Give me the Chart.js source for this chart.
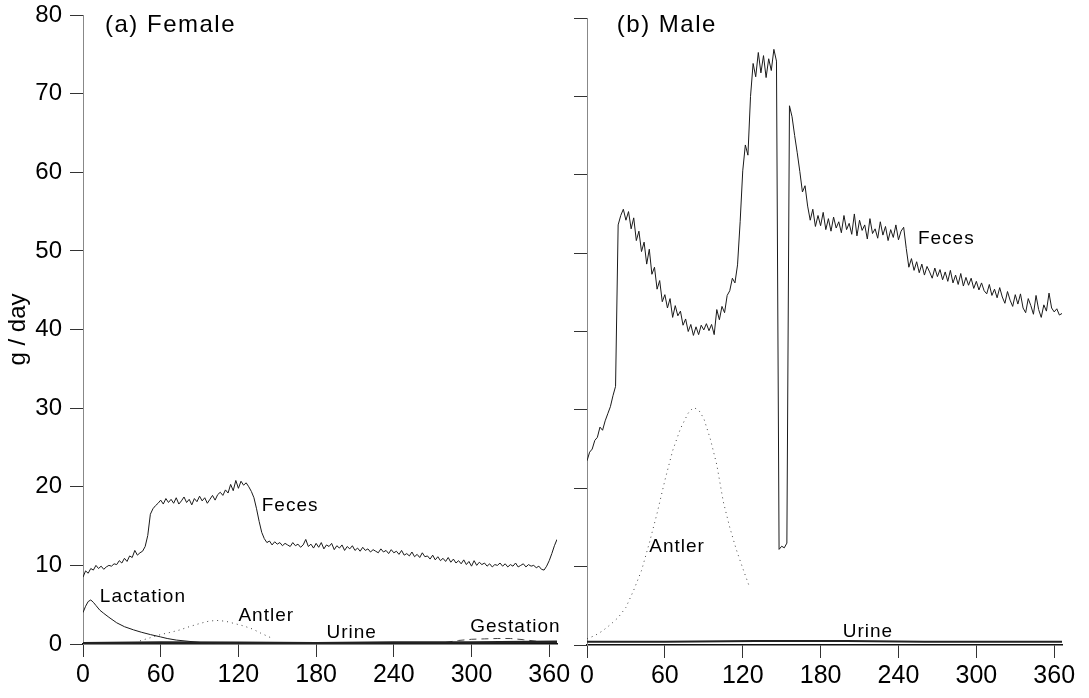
<!DOCTYPE html>
<html><head><meta charset="utf-8">
<script src="https://cdn.jsdelivr.net/npm/chart.js@4.4.1/dist/chart.umd.min.js"></script>
<style>
html,body{margin:0;padding:0;background:#fff;}
#wrap{position:relative;width:1089px;height:698px;background:#fff;}
canvas{position:absolute;left:0;top:0;}
</style></head><body>
<div id="wrap"><canvas id="female" width="1089" height="698"></canvas><canvas id="male" width="1089" height="698"></canvas></div>
<script>
// ---------- data ----------
const xTicks = [0, 60, 120, 180, 240, 300, 360];
const yTicks = [0, 10, 20, 30, 40, 50, 60, 70, 80];

const days = [
0,2,4,6,8,10,12,14,16,18,
20,22,24,26,28,30,32,34,36,38,
40,42,44,46,48,50,52,54,56,58,
60,62,64,66,68,70,72,74,76,78,
80,82,84,86,88,90,92,94,96,98,
100,102,104,106,108,110,112,114,116,118,
120,122,124,126,128,130,132,134,136,138,
140,142,144,146,148,150,152,154,156,158,
160,162,164,166,168,170,172,174,176,178,
180,182,184,186,188,190,192,194,196,198,
200,202,204,206,208,210,212,214,216,218,
220,222,224,226,228,230,232,234,236,238,
240,242,244,246,248,250,252,254,256,258,
260,262,264,266,268,270,272,274,276,278,
280,282,284,286,288,290,292,294,296,298,
300,302,304,306,308,310,312,314,316,318,
320,322,324,326,328,330,332,334,336,338,
340,342,344,346,348,350,352,354,356,358,
360,362,364,366];

const femaleFeces = [
8.5,9.3,9.0,9.6,9.4,10.0,9.6,9.9,9.5,9.8,
10.0,9.9,10.2,10.1,10.6,10.3,10.9,10.5,11.2,11.0,
11.9,11.3,11.6,11.8,12.4,13.8,16.5,17.2,17.6,17.9,
18.3,17.8,18.5,18.0,18.4,17.9,18.6,17.8,18.2,18.7,
18.0,18.4,17.7,18.5,18.1,18.8,18.2,18.6,17.9,18.4,
18.9,18.3,19.0,19.3,18.9,19.6,19.2,20.3,19.5,20.8,
19.8,20.7,20.2,20.5,20.0,19.4,18.6,17.2,15.6,14.2,
13.4,12.9,13.1,12.6,13.0,12.7,12.9,12.5,12.8,12.6,
12.4,12.9,12.5,12.7,12.3,12.6,13.3,12.4,12.7,12.2,
12.8,12.3,12.9,12.1,12.6,12.4,12.8,12.0,12.5,12.2,
12.6,11.9,12.4,12.1,12.5,11.9,12.2,11.8,12.3,11.9,
12.1,11.7,12.0,11.8,11.6,12.1,11.7,11.9,11.5,12.0,
11.6,11.8,11.4,11.9,11.3,11.5,11.2,11.7,11.1,11.4,
11.0,11.6,11.1,11.2,10.8,11.3,10.7,11.1,10.6,10.9,
10.5,11.0,10.4,10.8,10.3,10.6,10.2,10.7,10.1,10.5,
9.9,10.6,10.0,10.4,10.1,10.3,9.9,10.2,9.8,10.1,
10.0,10.3,9.9,10.2,9.8,10.1,9.9,10.3,9.8,10.0,
10.2,9.8,10.1,9.9,10.0,9.7,9.9,9.5,9.4,9.9,
10.6,11.5,12.5,13.3];

const maleFeces = [
23.5,24.6,25.0,26.1,26.5,27.8,27.4,28.6,29.5,30.4,
31.8,33.0,53.6,54.8,55.6,54.2,55.3,53.1,54.5,51.6,
52.8,50.2,51.4,48.6,50.5,47.3,48.2,45.4,46.5,43.8,
44.7,43.0,44.2,41.8,43.3,42.0,42.6,40.8,41.6,40.0,
40.9,39.5,40.6,39.6,40.8,40.2,41.0,40.1,40.9,39.6,
42.8,41.5,43.2,42.4,44.6,45.2,46.8,46.2,48.5,54.0,
60.5,63.8,62.5,70.0,74.2,72.5,75.6,73.0,75.2,72.4,
74.8,73.3,76.0,74.5,12.2,12.6,12.4,13.0,68.8,67.4,
65.0,62.8,60.4,57.8,58.6,56.0,54.2,55.6,53.4,54.8,
53.5,55.2,53.0,54.4,52.8,54.6,53.2,54.0,52.6,54.8,
53.0,53.8,52.4,55.0,52.2,54.2,52.9,53.6,51.8,54.4,
52.5,53.1,51.9,54.0,52.3,53.4,51.6,53.0,52.0,53.6,
51.7,52.8,53.3,50.6,48.2,49.3,47.8,48.9,47.5,48.6,
47.2,48.3,47.6,46.8,48.1,47.0,47.9,46.6,47.6,46.4,
47.8,46.2,47.2,46.0,47.4,45.8,46.9,45.9,46.8,45.5,
46.4,45.3,46.2,45.2,44.8,46.0,44.6,45.4,44.3,45.6,
44.4,43.6,45.1,44.0,43.2,44.7,43.5,44.8,43.0,42.4,
44.2,43.3,42.2,44.6,42.8,41.8,43.4,42.6,44.9,43.0,
42.5,42.9,42.1,42.3];

const lactationDays   = [0,2,4,6,8,10,13,16,20,26,32,39,45,52,60,65,72,78,90,100,120];
const lactationValues = [4.0,4.8,5.4,5.6,5.3,4.9,4.3,3.9,3.4,2.7,2.2,1.8,1.5,1.2,0.9,0.7,0.5,0.4,0.2,0.1,0.05];

const femaleAntlerDays   = [44,52,60,68,75,82,90,97,103,110,117,124,131,137,145];
const femaleAntlerValues = [0.4,0.8,1.2,1.5,1.8,2.2,2.6,2.9,3.0,2.9,2.6,2.3,1.9,1.4,0.8];

const gestationDays   = [280,290,300,310,320,330,340,350,358];
const gestationValues = [0.2,0.45,0.6,0.65,0.7,0.7,0.55,0.35,0.2];

const femaleUrineDays   = [0,60,120,180,240,300,366];
const femaleUrineValues = [0.1,0.2,0.15,0.1,0.2,0.2,0.3];

const maleAntlerDays   = [0,6,12,18,24,30,36,42,48,54,60,66,72,78,82,86,90,95,100,105,110,115,120,125];
const maleAntlerValues = [0.8,1.2,1.8,2.6,3.5,4.8,7.0,9.5,13.0,16.8,21.0,24.8,27.6,29.6,30.3,30.0,28.9,26.3,23.0,18.3,15.0,12.2,9.8,7.5];

const maleUrineDays   = [0,60,130,200,260,366];
const maleUrineValues = [0.4,0.4,0.5,0.5,0.4,0.4];

const femaleLabelTexts  = ['(a) Female', 'Feces', 'Lactation', 'Antler', 'Urine', 'Gestation'];
const femaleLabelDays   = [17, 138, 13, 120, 188, 299];
const femaleLabelValues = [78.7, 17.6, 6.0, 3.6, 1.4, 2.2];

const maleLabelTexts  = ['(b) Male', 'Feces', 'Antler', 'Urine'];
const maleLabelDays   = [23, 255, 48, 197];
const maleLabelValues = [79.1, 51.8, 12.5, 1.7];

// ---------- helpers ----------
const FONT = '"Liberation Sans", Arial, Helvetica, sans-serif';
const pts = (xs, ys) => xs.map((x, i) => ({x: x, y: ys[i]}));

function series(xs, ys, style) {
  return Object.assign({
    data: pts(xs, ys), borderColor: '#1a1a1a', borderWidth: 1,
    pointRadius: 0, tension: 0, fill: false, borderDash: []
  }, style || {});
}

const labelPlugin = {
  id: 'textLabels',
  afterDatasetsDraw(chart, args, opts) {
    const ctx = chart.ctx, xs = chart.scales.x, ys = chart.scales.y;
    opts.texts.forEach((t, i) => {
      const isTitle = i === 0;
      ctx.save();
      ctx.font = (isTitle ? 24 : 19) + 'px ' + FONT;
      ctx.letterSpacing = (isTitle ? 1.5 : 1) + 'px';
      ctx.fillStyle = '#000';
      ctx.textAlign = 'left';
      ctx.textBaseline = 'middle';
      ctx.fillText(t, xs.getPixelForValue(opts.days[i]), ys.getPixelForValue(opts.values[i]));
      ctx.restore();
    });
  }
};

function makeOptions(cfg) {
  return {
    responsive: false, animation: false, devicePixelRatio: 1,
    layout: {padding: cfg.padding},
    plugins: {
      legend: {display: false}, tooltip: {enabled: false},
      textLabels: {texts: cfg.texts, days: cfg.days, values: cfg.values}
    },
    scales: {
      x: {
        type: 'linear', min: 0, max: 366,
        afterBuildTicks: s => { s.ticks = xTicks.map(v => ({value: v})); },
        afterFit: s => { s.height = cfg.xHeight; s.paddingLeft = 0; s.paddingRight = 0; },
        ticks: {color: '#000', font: {family: FONT, size: 25}, padding: 3, maxRotation: 0, autoSkip: false},
        grid: {drawOnChartArea: false, drawTicks: true, tickLength: 13, color: '#333', lineWidth: 1},
        border: {display: true, color: '#111', width: 1.5}
      },
      y: {
        type: 'linear', min: 0, max: 80,
        afterBuildTicks: s => { s.ticks = yTicks.map(v => ({value: v})); },
        afterFit: s => { s.width = cfg.yWidth; s.paddingTop = 0; s.paddingBottom = 0; },
        ticks: {display: cfg.yLabels, color: '#000', font: {family: FONT, size: 24}, padding: 8},
        grid: {drawOnChartArea: false, drawTicks: true, tickLength: 13, color: '#333', lineWidth: 1},
        border: {display: true, color: '#888', width: 1},
        title: {display: cfg.yLabels, text: 'g / day', color: '#000', font: {family: FONT, size: 24}, padding: {top: 4, bottom: 0}}
      }
    }
  };
}

new Chart(document.getElementById('female'), {
  type: 'line',
  data: {datasets: [
    series(femaleUrineDays, femaleUrineValues, {borderWidth: 2.5, borderColor: '#222'}),
    series(days, femaleFeces),
    series(lactationDays, lactationValues),
    series(femaleAntlerDays, femaleAntlerValues, {borderDash: [1, 4], borderColor: '#444'}),
    series(gestationDays, gestationValues, {borderDash: [7, 5], borderColor: '#444'})
  ]},
  options: makeOptions({
    padding: {left: 0, top: 15, right: 532, bottom: 0},
    xHeight: 54, yWidth: 83, yLabels: true,
    texts: femaleLabelTexts, days: femaleLabelDays, values: femaleLabelValues
  }),
  plugins: [labelPlugin]
});

new Chart(document.getElementById('male'), {
  type: 'line',
  data: {datasets: [
    series(maleUrineDays, maleUrineValues, {borderWidth: 2, borderColor: '#222'}),
    series(days, maleFeces),
    series(maleAntlerDays, maleAntlerValues, {borderDash: [1, 4], borderColor: '#444'})
  ]},
  options: makeOptions({
    padding: {left: 567, top: 18, right: 27, bottom: 0},
    xHeight: 53, yWidth: 20, yLabels: false,
    texts: maleLabelTexts, days: maleLabelDays, values: maleLabelValues
  }),
  plugins: [labelPlugin]
});
</script>
</body></html>
